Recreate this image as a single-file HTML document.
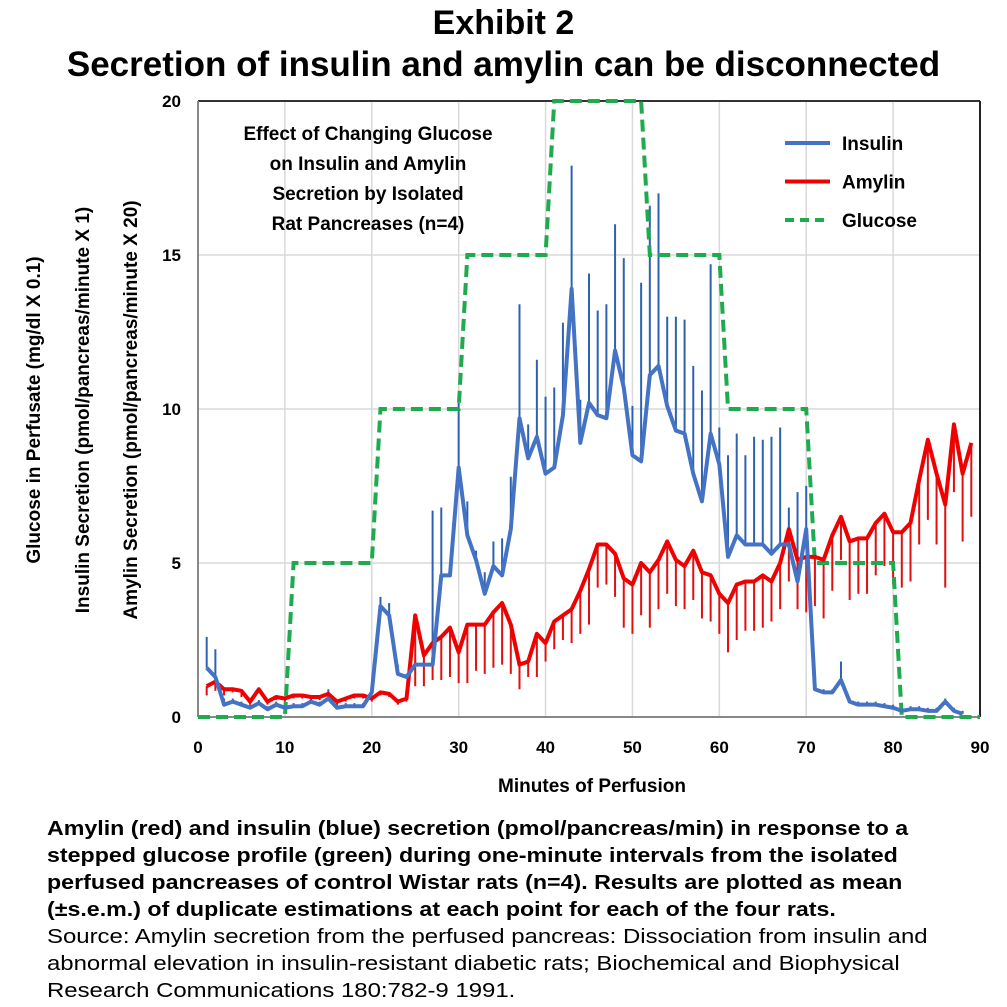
<!DOCTYPE html>
<html><head><meta charset="utf-8"><style>
body{margin:0;background:#fff;width:1007px;height:1007px;overflow:hidden;font-family:"Liberation Sans",Arial,sans-serif}
.t{position:absolute;left:0;width:1007px;text-align:center;font-weight:bold;color:#000;white-space:nowrap}
.cap{position:absolute;left:47px;font-size:20.3px;line-height:27px;color:#000;white-space:nowrap;transform-origin:0 0}
</style></head><body>
<div class="t" style="top:4px;font-size:34px">Exhibit 2</div>
<div class="t" style="top:45px;font-size:35px">Secretion of insulin and amylin can be disconnected</div>
<svg id="c" width="1007" height="1007" style="position:absolute;left:0;top:0"></svg>
<div class="cap" style="top:816px;font-weight:bold;transform:scaleX(1.144)">Amylin (red) and insulin (blue) secretion (pmol/pancreas/min) in response to a<br>stepped glucose profile (green) during one-minute intervals from the isolated<br>perfused pancreases of control Wistar rats (n=4). Results are plotted as mean<br>(±s.e.m.) of duplicate estimations at each point for each of the four rats.</div>
<div class="cap" style="top:924px;transform:scaleX(1.18)">Source: Amylin secretion from the perfused pancreas: Dissociation from insulin and<br>abnormal elevation in insulin-resistant diabetic rats; Biochemical and Biophysical<br>Research Communications 180:782-9 1991.</div>
<script>
const insulin=[1.6,1.3,0.4,0.5,0.4,0.3,0.45,0.25,0.4,0.3,0.35,0.35,0.5,0.4,0.6,0.3,0.35,0.35,0.35,0.8,3.6,3.3,1.4,1.3,1.7,1.7,1.7,4.6,4.6,8.1,5.9,5.1,4.0,4.9,4.6,6.1,9.7,8.4,9.1,7.9,8.1,9.8,13.9,8.9,10.2,9.8,9.7,11.9,10.7,8.5,8.3,11.1,11.4,10.1,9.3,9.2,7.9,7.0,9.2,8.2,5.2,5.9,5.6,5.6,5.6,5.3,5.6,5.6,4.4,6.1,0.9,0.8,0.8,1.2,0.5,0.4,0.4,0.4,0.35,0.3,0.2,0.25,0.25,0.2,0.2,0.5,0.2,0.1];
const insulinErr=[1.0,0.9,0.2,0.1,0.1,0.1,0.1,0.1,0.1,0.1,0.1,0.1,0.2,0.1,0.3,0.1,0.1,0.1,0.1,0.1,0.3,0.4,0.3,0.1,0.1,0.1,5.0,2.2,0.4,2.1,1.1,0.3,0.7,0.8,1.2,1.7,3.7,1.1,2.5,2.5,2.6,3.0,4.0,1.4,4.2,3.4,3.7,4.1,4.2,1.6,5.8,5.5,5.6,2.9,3.7,3.7,3.5,3.6,5.5,1.2,3.3,3.3,2.9,3.5,3.4,3.8,3.8,1.2,2.9,1.4,0.1,0.1,0.1,0.6,0.1,0.1,0.1,0.1,0.1,0.1,0.1,0.1,0.1,0.1,0.1,0.1,0.1,0.1];
const amylin=[1.0,1.15,0.9,0.9,0.85,0.5,0.9,0.5,0.65,0.6,0.7,0.7,0.65,0.65,0.75,0.5,0.6,0.7,0.7,0.6,0.8,0.75,0.5,0.6,3.3,2.0,2.4,2.6,2.9,2.1,3.0,3.0,3.0,3.4,3.7,3.0,1.7,1.8,2.7,2.4,3.1,3.3,3.5,4.1,4.8,5.6,5.6,5.3,4.5,4.3,5.0,4.7,5.1,5.7,5.1,4.9,5.4,4.7,4.6,4.0,3.7,4.3,4.4,4.4,4.6,4.4,5.0,6.1,5.1,5.2,5.2,5.1,5.9,6.5,5.7,5.8,5.8,6.3,6.6,6.0,6.0,6.3,7.7,9.0,7.9,6.9,9.5,7.9,8.9];
const amylinErr=[0.3,0.3,0.2,0.1,0.2,0.1,0.1,0.1,0.1,0.1,0.1,0.1,0.1,0.1,0.1,0.1,0.1,0.1,0.1,0.1,0.1,0.1,0.1,0.1,2.3,1.0,1.2,1.4,1.6,1.0,1.9,1.5,1.6,1.8,2.0,1.6,0.8,0.5,1.4,0.6,0.9,0.8,1.1,1.4,1.8,1.4,1.3,1.4,1.6,1.6,1.7,1.8,1.6,1.7,1.5,1.4,1.6,1.5,1.5,1.3,1.6,1.8,1.6,1.6,1.7,1.3,1.5,1.7,1.6,1.8,1.6,1.9,1.8,1.4,1.9,1.8,1.8,1.7,1.7,1.7,1.8,1.9,2.1,2.6,2.3,2.7,2.2,2.2,2.4];
const glucoseX=[0,10,11,20,21,30,31,40,41,51,52,60,61,70,71,80,81,90];
const glucoseY=[0,0,5,5,10,10,15,15,20,20,15,15,10,10,5,5,0,0];
const xTicks=[0,10,20,30,40,50,60,70,80,90];
const yTicks=[0,5,10,15,20];
const NS="http://www.w3.org/2000/svg";
const svg=document.getElementById('c');
const X=v=>198+v*(782/90), Y=v=>717-v*(616/20);
function el(t,a,p){const e=document.createElementNS(NS,t);for(const k in a)e.setAttribute(k,a[k]);(p||svg).appendChild(e);return e;}
xTicks.forEach(t=>{if(t>0&&t<90){const l=el('line',{x1:X(t),x2:X(t),y1:101,y2:717,stroke:'#d9d9d9','stroke-width':1.5});}
const tx=el('text',{x:X(t),y:753,'text-anchor':'middle','font-size':17,'font-weight':'bold','font-family':'Liberation Sans'});tx.textContent=t;});
yTicks.forEach(t=>{if(t>0&&t<20){const l=el('line',{x1:198,x2:980,y1:Y(t),y2:Y(t),stroke:'#d9d9d9','stroke-width':1.5});}
const tx=el('text',{x:181,y:Y(t)+6,'text-anchor':'end','font-size':17,'font-weight':'bold','font-family':'Liberation Sans'});tx.textContent=t;});
let a=el('line',{x1:198,x2:980,y1:101,y2:101,stroke:'#333','stroke-width':2});
a=el('line',{x1:980,x2:980,y1:101,y2:717,stroke:'#222','stroke-width':2});
a=el('line',{x1:198,x2:198,y1:101,y2:717,stroke:'#888','stroke-width':2});
a=el('line',{x1:198,x2:980,y1:717,y2:717,stroke:'#888','stroke-width':2});
insulin.forEach((v,i)=>{const b=el('line',{x1:X(i+1),x2:X(i+1),y1:Y(v),y2:Y(v+insulinErr[i]),stroke:'#2e62b0','stroke-width':2});});
amylin.forEach((v,i)=>{const b=el('line',{x1:X(i+1),x2:X(i+1),y1:Y(v),y2:Y(v-amylinErr[i]),stroke:'#e01010','stroke-width':2});});
let g=el('polyline',{points:glucoseX.map((x,i)=>X(x)+','+Y(glucoseY[i])).join(' '),fill:'none',stroke:'#1faa50','stroke-width':4,'stroke-dasharray':'12,6'});
let am=el('polyline',{points:amylin.map((v,i)=>X(i+1)+','+Y(v)).join(' '),fill:'none',stroke:'#f00000','stroke-width':4,'stroke-linejoin':'round'});
let ins=el('polyline',{points:insulin.map((v,i)=>X(i+1)+','+Y(v)).join(' '),fill:'none',stroke:'#4472c4','stroke-width':4,'stroke-linejoin':'round'});
function txt(s,x,y,sz,name,anchor,rot){const t=el('text',{x:x,y:y,'font-size':sz,'font-weight':'bold','font-family':'Liberation Sans','text-anchor':anchor||'middle'});if(rot)t.setAttribute('transform','rotate(-90 '+x+' '+y+')');t.textContent=s;return t;}
txt('Minutes of Perfusion',592,792,19,'x-axis-title');
txt('Glucose in Perfusate (mg/dl X 0.1)',40,410,19,'y-axis-title-glucose','middle',true);
txt('Insulin Secretion (pmol/pancreas/minute X 1)',89,410,19,'y-axis-title-insulin','middle',true);
txt('Amylin Secretion (pmol/pancreas/minute X 20)',137,410,19,'y-axis-title-amylin','middle',true);
['Effect of Changing Glucose','on Insulin and Amylin','Secretion by Isolated','Rat Pancreases (n=4)'].forEach((s,i)=>txt(s,368,140+i*30,19,'chart-annotation'));
[['Insulin','#4472c4',null],['Amylin','#f00000',null],['Glucose','#1faa50','9,6']].forEach((d,i)=>{const y=143+i*38.5;const l=el('line',{x1:785,x2:830,y1:y,y2:y,stroke:d[1],'stroke-width':4});if(d[2])l.setAttribute('stroke-dasharray',d[2]);txt(d[0],842,y+7,19,'legend-entry-'+d[0].toLowerCase(),'start');});
</script>
</body></html>
